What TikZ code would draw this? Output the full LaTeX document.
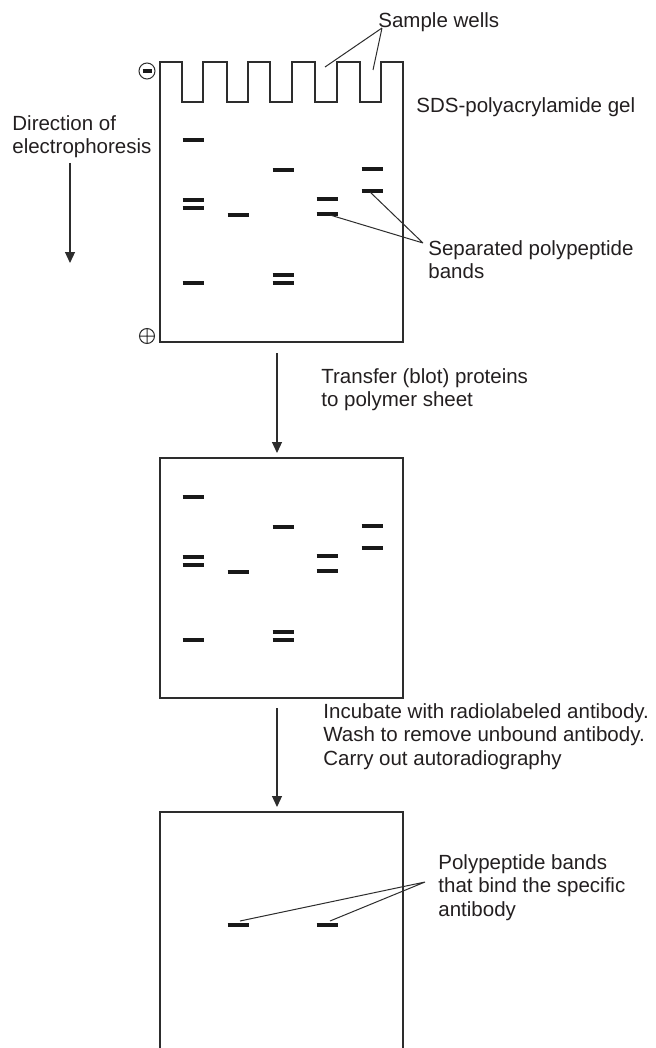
\documentclass[tikz,border=0pt]{standalone}
\usepackage{fontspec}
\setmainfont{Liberation Sans}
\usepackage{xcolor}
\usetikzlibrary{arrows.meta}
\definecolor{GelLine}{RGB}{45, 45, 45}
\definecolor{BandInk}{RGB}{25, 25, 25}
\definecolor{LabelText}{RGB}{35, 31, 32}

\tikzset{
  gel/.style={GelLine, line width=0.65pt},
  band/.style={BandInk, line width=1.6pt},
  pointer/.style={GelLine, line width=0.5pt},
  flow/.style={GelLine, line width=0.6pt, -{Triangle[length=5.5pt, width=5pt]}},
  lbl/.style={font=\fontsize{10.25}{11.75}\selectfont, text=LabelText, align=left, inner sep=0pt, anchor=north west}
}

\begin{document}
\begin{tikzpicture}[x=0.5pt,y=-0.5pt]
  \path[use as bounding box] (0,0) rectangle (656,1048);
  \fill[white] (0,0) rectangle (656,1048);

  % gel with its row of sample wells
  \draw[gel] (160,342) -- (160,62)
    \foreach \a/\b in {182/203,227/248,270/292,315/337,360/381}{
      -- (\a,62) -- (\a,102) -- (\b,102) -- (\b,62)
    }
    -- (403,62) -- (403,342) -- cycle;
  % blot sheet and autoradiograph
  \draw[gel] (160,458) rectangle (403,698);
  \draw[gel] (160,1048) -- (160,812) -- (403,812) -- (403,1048);

  % same band pattern on gel and sheet
  \foreach \dy in {0,357}{
    \foreach \x/\y in {193/140,193/200,193/208,193/283,238/215,283/170,283/275,283/283,327/199,327/214,372/169,372/191}{
      \draw[band] (\x-10.5,\y+\dy) -- (\x+10.5,\y+\dy);
    }
  }
  \foreach \x in {238,327}{
    \draw[band] (\x-10.5,925) -- (\x+10.5,925);
  }

  % electrodes
  \draw[pointer] (147,71) circle[radius=8];
  \draw[BandInk, line width=1.7pt] (142.5,71) -- (151.5,71);
  \draw[pointer] (147,336) circle[radius=7.5] (139.5,336) -- (154.5,336) (147,328.5) -- (147,343.5);

  \node[lbl] (wells) at (378,12) {Sample wells};
  \node[lbl] (sds) at (416,97) {SDS-polyacrylamide gel};
  \node[lbl] (dir) at (12,115) {Direction of\\electrophoresis};
  \node[lbl] (sep) at (428,240) {Separated polypeptide\\bands};
  \node[lbl] (transfer) at (321,368) {Transfer (blot) proteins\\to polymer sheet};
  \node[lbl] (incubate) at (323,703) {Incubate with radiolabeled antibody.\\Wash to remove unbound antibody.\\Carry out autoradiography};
  \node[lbl] (bind) at (438,854) {Polypeptide bands\\that bind the specific\\antibody};

  \coordinate (wellsFoot) at (382,28);
  \coordinate (wellC) at (325,67);
  \coordinate (wellD) at (373,70);
  \coordinate (sepFoot) at (423,243);
  \coordinate (bandD) at (330,215);
  \coordinate (bandE) at (370,192);
  \coordinate (bindFoot) at (425,882);
  \coordinate (hitB) at (240,921);
  \coordinate (hitD) at (330,921);
  \draw[pointer] (wellsFoot) -- (wellC) (wellsFoot) -- (wellD);
  \draw[pointer] (sepFoot) -- (bandD) (sepFoot) -- (bandE);
  \draw[pointer] (bindFoot) -- (hitB) (bindFoot) -- (hitD);

  \coordinate (dirTop) at (70,163);
  \coordinate (dirEnd) at (70,263);
  \coordinate (blotTop) at (277,353);
  \coordinate (blotEnd) at (277,453);
  \coordinate (probeTop) at (277,708);
  \coordinate (probeEnd) at (277,807);
  \draw[flow] (dirTop) -- (dirEnd);
  \draw[flow] (blotTop) -- (blotEnd);
  \draw[flow] (probeTop) -- (probeEnd);
\end{tikzpicture}
\end{document}
